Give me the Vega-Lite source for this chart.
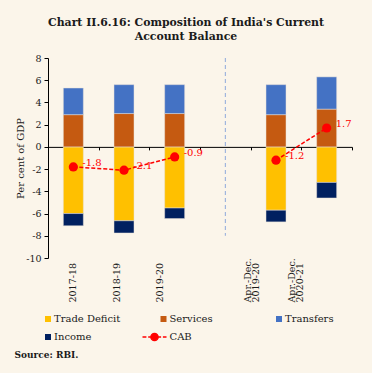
{
  "$schema": "https://vega.github.io/schema/vega-lite/v6.json",
  "width": 304,
  "height": 200,
  "autosize": "none",
  "padding": {"left": 48, "top": 58, "right": 20, "bottom": 115},
  "background": "#FBF5EA",
  "config": {
    "view": {"stroke": null},
    "font": "DejaVu Serif",
    "axisY": {
      "labelOverlap": false,
      "title": "Per cent of GDP",
      "titleFont": "DejaVu Serif",
      "titleFontSize": 10,
      "titleFontWeight": "normal",
      "titleColor": "#1a1a1a",
      "titlePadding": 0,
      "grid": false,
      "domainColor": "#000000",
      "tickColor": "#000000",
      "tickSize": 4,
      "labelFont": "DejaVu Serif",
      "labelFontSize": 9.5,
      "labelColor": "#1a1a1a",
      "labelPadding": 3
    },
    "locale": {"number": {"decimal": ".", "thousands": ",", "grouping": [3], "currency": ["$", ""], "minus": "-"}}
  },
  "title": {
    "text": ["Chart II.6.16: Composition of  India's Current", "Account Balance"],
    "font": "DejaVu Serif",
    "fontSize": 10.9,
    "fontWeight": "bold",
    "color": "#1a1a1a",
    "lineHeight": 14,
    "anchor": "middle",
    "frame": "group",
    "dx": -14,
    "offset": 11
  },
  "resolve": {"scale": {"x": "independent"}, "axis": {"x": "independent"}},
  "datasets": {
    "bars": [
      {"period": "2017-18", "component": "Trade Deficit", "value": -6.0},
      {"period": "2017-18", "component": "Services", "value": 2.9},
      {"period": "2017-18", "component": "Transfers", "value": 2.4},
      {"period": "2017-18", "component": "Income", "value": -1.1},
      {"period": "2018-19", "component": "Trade Deficit", "value": -6.65},
      {"period": "2018-19", "component": "Services", "value": 3.0},
      {"period": "2018-19", "component": "Transfers", "value": 2.6},
      {"period": "2018-19", "component": "Income", "value": -1.1},
      {"period": "2019-20", "component": "Trade Deficit", "value": -5.5},
      {"period": "2019-20", "component": "Services", "value": 3.0},
      {"period": "2019-20", "component": "Transfers", "value": 2.6},
      {"period": "2019-20", "component": "Income", "value": -0.95},
      {"period": "Apr.-Dec. 2019-20", "component": "Trade Deficit", "value": -5.7},
      {"period": "Apr.-Dec. 2019-20", "component": "Services", "value": 2.9},
      {"period": "Apr.-Dec. 2019-20", "component": "Transfers", "value": 2.7},
      {"period": "Apr.-Dec. 2019-20", "component": "Income", "value": -1.05},
      {"period": "Apr.-Dec. 2020-21", "component": "Trade Deficit", "value": -3.2},
      {"period": "Apr.-Dec. 2020-21", "component": "Services", "value": 3.4},
      {"period": "Apr.-Dec. 2020-21", "component": "Transfers", "value": 2.9},
      {"period": "Apr.-Dec. 2020-21", "component": "Income", "value": -1.4}
    ],
    "cab": [
      {"period": "2017-18", "cab": -1.8, "segment": "A"},
      {"period": "2018-19", "cab": -2.1, "segment": "A"},
      {"period": "2019-20", "cab": -0.9, "segment": "A"},
      {"period": "Apr.-Dec. 2019-20", "cab": -1.2, "segment": "B"},
      {"period": "Apr.-Dec. 2020-21", "cab": 1.7, "segment": "B"}
    ]
  },
  "layer": [
    {
      "data": {"name": "bars"},
      "transform": [
        {"calculate": "indexof(['Trade Deficit', 'Services', 'Transfers', 'Income'], datum.component)", "as": "stack_rank"}
      ],
      "mark": {"type": "bar", "size": 20, "stroke": "#E6E1D8", "strokeWidth": 0.5},
      "encoding": {
        "x": {
          "field": "period",
          "type": "nominal",
          "scale": {
            "domain": ["2017-18", "2018-19", "2019-20", " ", "Apr.-Dec. 2019-20", "Apr.-Dec. 2020-21"],
            "paddingInner": 0,
            "paddingOuter": 0
          },
          "axis": {
            "orient": "bottom",
            "title": "Source: RBI.",
            "titleFont": "DejaVu Serif",
            "titleFontSize": 9,
            "titleFontWeight": "bold",
            "titleColor": "#1a1a1a",
            "titleAnchor": "start",
            "titleAlign": "left",
            "titleBaseline": "middle",
            "titleX": -34,
            "titleY": 208,
            "offset": -111.11,
            "domainColor": "#000000",
            "domainWidth": 1,
            "tickBand": "extent",
            "tickColor": "#000000",
            "tickSize": 3,
            "labels": false
          }
        },
        "y": {
          "field": "value",
          "type": "quantitative",
          "stack": "zero",
          "scale": {"domain": [-10, 8], "nice": false},
          "axis": {"values": [-10, -8, -6, -4, -2, 0, 2, 4, 6, 8], "labelOverlap": false, "title": "Per cent of GDP"}
        },
        "order": {"field": "stack_rank", "type": "quantitative"},
        "color": {
          "field": "component",
          "type": "nominal",
          "sort": ["Trade Deficit", "Services", "Transfers", "Income", "CAB"],
          "scale": {
            "domain": ["Trade Deficit", "Services", "Transfers", "Income", "CAB"],
            "range": ["#FFC000", "#C55A11", "#4472C4", "#002060", "#FF0000"]
          },
          "legend": {
            "title": null,
            "orient": "none",
            "legendX": -5,
            "legendY": 255,
            "direction": "horizontal",
            "columns": 3,
            "gridAlign": "all",
            "columnPadding": 18.5,
            "rowPadding": 5,
            "symbolType": "square",
            "symbolSize": 36,
            "symbolStrokeColor": "#FF0000",
            "labelFont": "DejaVu Serif",
            "labelFontSize": 10,
            "labelColor": "#1a1a1a",
            "labelOffset": 1,
            "padding": 0,
            "encode": {
              "symbols": {
                "update": {
                  "shape": {"signal": "datum.value === 'CAB' ? 'M-7,0L-5.7,0M-5.1,0L-3.9,0M-2.1,0L-0.8,0M-0.2,0L1,0M-4.2,0A1.2,1.2 0 1 1 -1.8,0A1.2,1.2 0 1 1 -4.2,0Z' : 'square'"},
                  "stroke": {"value": "#FF0000"},
                  "strokeWidth": {"signal": "datum.value === 'CAB' ? 1.5 : 0"}
                }
              }
            }
          }
        }
      }
    },
    {
      "data": {"name": "cab"},
      "mark": {"type": "point", "opacity": 0},
      "encoding": {
        "x": {
          "field": "period",
          "type": "nominal",
          "scale": {
            "domain": ["2017-18", "2018-19", "2019-20", " ", "Apr.-Dec. 2019-20", "Apr.-Dec. 2020-21"],
            "range": [2.65, 264.85],
            "paddingInner": 0,
            "paddingOuter": 0
          },
          "axis": {
            "orient": "bottom",
            "title": null,
            "domain": false,
            "ticks": false,
            "labelAngle": -90,
            "labelAlign": "left",
            "labelBaseline": "middle",
            "labelPadding": 44,
            "labelFont": "DejaVu Serif",
            "labelFontSize": 9.5,
            "labelColor": "#1a1a1a",
            "labelLineHeight": 8,
            "labelExpr": "indexof(datum.label, ' ') > 0 ? split(datum.label, ' ') : datum.label"
          }
        },
        "y": {"field": "cab", "type": "quantitative", "axis": {"values": [-10, -8, -6, -4, -2, 0, 2, 4, 6, 8], "labelOverlap": false, "title": "Per cent of GDP"}}
      }
    },
    {
      "data": {"values": [{}]},
      "mark": {"type": "rule", "color": "#8EA9DB", "strokeDash": [4, 3], "strokeWidth": 1},
      "encoding": {
        "x": {
          "datum": " ",
          "type": "nominal",
          "scale": {
            "domain": ["2017-18", "2018-19", "2019-20", " ", "Apr.-Dec. 2019-20", "Apr.-Dec. 2020-21"],
            "paddingInner": 0,
            "paddingOuter": 0
          },
          "axis": null
        },
        "y": {"datum": 8, "axis": {"values": [-10, -8, -6, -4, -2, 0, 2, 4, 6, 8], "labelOverlap": false, "title": "Per cent of GDP"}},
        "y2": {"datum": -8}
      }
    },
    {
      "data": {"name": "cab"},
      "encoding": {
        "x": {
          "field": "period",
          "type": "nominal",
          "scale": {
            "domain": ["2017-18", "2018-19", "2019-20", " ", "Apr.-Dec. 2019-20", "Apr.-Dec. 2020-21"],
            "paddingInner": 0,
            "paddingOuter": 0
          },
          "axis": null
        },
        "y": {"field": "cab", "type": "quantitative", "axis": {"values": [-10, -8, -6, -4, -2, 0, 2, 4, 6, 8], "labelOverlap": false, "title": "Per cent of GDP"}}
      },
      "layer": [
        {
          "mark": {"type": "line", "color": "#FF0000", "strokeDash": [4, 2], "strokeWidth": 1.5},
          "encoding": {"detail": {"field": "segment"}}
        },
        {
          "mark": {"type": "point", "filled": true, "color": "#FF0000", "size": 85, "opacity": 1}
        },
        {
          "mark": {"type": "text", "color": "#FF0000", "align": "left", "baseline": "middle", "dx": 9, "dy": -4, "font": "DejaVu Serif", "fontSize": 10},
          "encoding": {"text": {"field": "cab", "type": "quantitative", "format": ".1f"}}
        }
      ]
    }
  ]
}
